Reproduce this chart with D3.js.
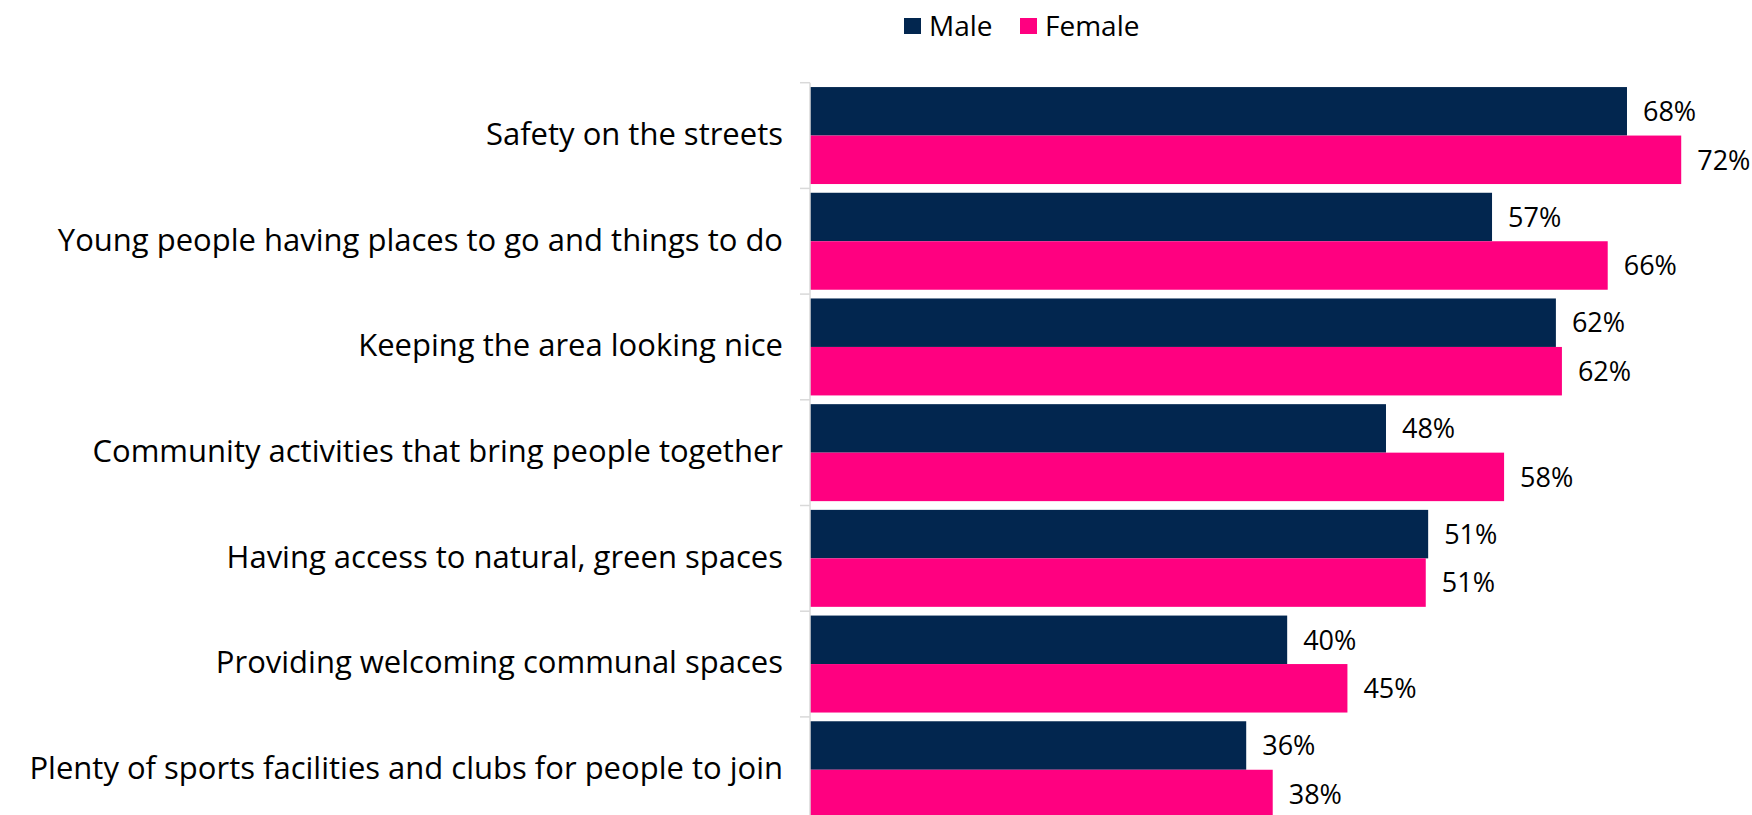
<!DOCTYPE html>
<html>
<head>
<meta charset="utf-8">
<script src="https://cdn.jsdelivr.net/npm/d3@7"></script>
<style>
  body { margin: 0; background: #fff; }
  svg { display: block; font-family: "Open Sans", sans-serif; }
</style>
</head>
<body>
<svg id="chart" width="1752" height="815"></svg>
<script>
const categories = [
  "Safety on the streets",
  "Young people having places to go and things to do",
  "Keeping the area looking nice",
  "Community activities that bring people together",
  "Having access to natural, green spaces",
  "Providing welcoming communal spaces",
  "Plenty of sports facilities and clubs for people to join"
];
const series = ["Male", "Female"];
const maleValues = [67.8, 56.6, 61.9, 47.8, 51.3, 39.6, 36.2];
const femaleValues = [72.3, 66.2, 62.4, 57.6, 51.1, 44.6, 38.4];

const colors = { Male: "#02264f", Female: "#ff0080" };

const svg = d3.select("#chart");
const width = +svg.attr("width");

const data = categories.map((c, i) => ({
  category: c,
  values: [
    { key: "Male", value: maleValues[i] },
    { key: "Female", value: femaleValues[i] }
  ]
}));

const x0 = 810;
const x = d3.scaleLinear().domain([0, 100]).range([x0, x0 + 1205]);

const y = d3.scaleBand()
  .domain(categories)
  .range([82.7, 82.7 + 7 * 105.7])
  .padding(0);

const y1 = d3.scaleBand()
  .domain(series)
  .range([0, y.bandwidth()])
  .paddingInner(0)
  .paddingOuter(0.09);

// bars
const groups = svg.append("g").selectAll("g")
  .data(data)
  .enter().append("g")
    .attr("transform", d => "translate(0," + y(d.category) + ")");

groups.selectAll("rect")
  .data(d => d.values)
  .enter().append("rect")
    .attr("x", x(0))
    .attr("y", d => y1(d.key))
    .attr("width", d => x(d.value) - x(0))
    .attr("height", y1.bandwidth())
    .attr("fill", d => colors[d.key]);

groups.selectAll("text")
  .data(d => d.values)
  .enter().append("text")
    .attr("x", d => x(d.value) + 16)
    .attr("y", d => y1(d.key) + y1.bandwidth() / 2)
    .attr("dy", "0.36em")
    .attr("font-size", 27)
    .attr("fill", "#000")
    .text(d => Math.round(d.value) + "%");

// axis line + ticks at band edges
const axisG = svg.append("g");
axisG.append("line")
  .attr("x1", x0).attr("x2", x0)
  .attr("y1", y.range()[0]).attr("y2", y.range()[1])
  .attr("stroke", "#d9d9d9").attr("stroke-width", 1.5);

const edges = categories.map(c => y(c)).concat([y.range()[1]]);
axisG.selectAll(".edge")
  .data(edges)
  .enter().append("line")
    .attr("class", "edge")
    .attr("x1", x0 - 10).attr("x2", x0)
    .attr("y1", d => d).attr("y2", d => d)
    .attr("stroke", "#d9d9d9").attr("stroke-width", 1.5);

// category labels
const yAxis = svg.append("g")
  .attr("transform", "translate(" + x0 + ",0)")
  .call(d3.axisLeft(y).tickSize(0).tickPadding(27));
yAxis.select(".domain").remove();
yAxis.selectAll("text")
  .attr("font-family", "Open Sans, sans-serif")
  .attr("font-size", 31)
  .attr("fill", "#000")
  .attr("dy", "0.3em");

// legend
const legend = svg.append("g").attr("transform", "translate(904,18)");
const legendX = { Male: 0, Female: 116 };
series.forEach(s => {
  const lg = legend.append("g").attr("transform", "translate(" + legendX[s] + ",0)");
  lg.append("rect").attr("width", 17).attr("height", 16).attr("fill", colors[s]);
  lg.append("text")
    .attr("x", 25).attr("y", 8)
    .attr("dy", "0.36em")
    .attr("font-size", 28)
    .attr("fill", "#000")
    .text(s);
});
</script>
</body>
</html>
